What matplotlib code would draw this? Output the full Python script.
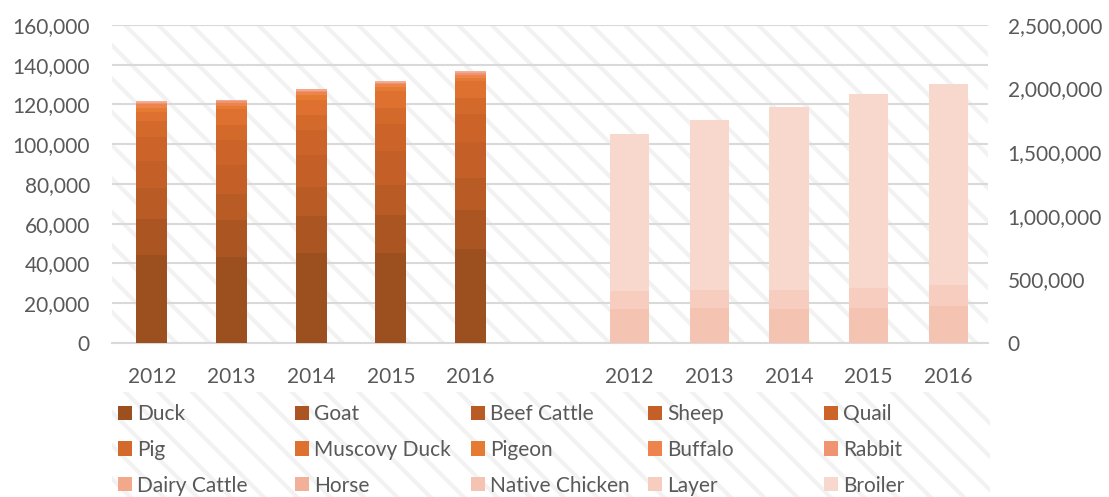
import matplotlib.pyplot as plt
from matplotlib.patches import Rectangle
from matplotlib.ticker import FuncFormatter
import numpy as np

years = ['2012', '2013', '2014', '2015', '2016']

# primary axis (head)
duck = [44000, 43300, 45000, 45000, 47100]
goat = [18200, 18400, 18700, 19200, 19700]
beef_cattle = [15700, 13200, 14700, 15200, 16400]
sheep = [13700, 14700, 16200, 17200, 18100]
quail = [11900, 12600, 12600, 13700, 13800]
pig = [8300, 7600, 7700, 7900, 8000]
muscovy_duck = [4600, 7700, 7400, 8300, 8600]
pigeon = [2000, 1700, 2300, 2300, 1700]
buffalo = [1700, 1700, 1500, 1400, 1500]
rabbit = [800, 700, 800, 600, 900]
dairy_cattle = [500, 500, 600, 450, 600]
horse = [350, 300, 300, 300, 350]

# secondary axis (head)
native_chicken = [267000, 275000, 267000, 275000, 291000]
layer = [142000, 139000, 147000, 157000, 163000]
broiler = [1237000, 1342000, 1438000, 1525000, 1585000]

left_series = [('Duck', duck, '#9C4F1F'), ('Goat', goat, '#AB5522'),
               ('Beef Cattle', beef_cattle, '#B85B24'), ('Sheep', sheep, '#C35F27'),
               ('Quail', quail, '#CC6429'), ('Pig', pig, '#D4692C'),
               ('Muscovy Duck', muscovy_duck, '#DE7030'), ('Pigeon', pigeon, '#E57A33'),
               ('Buffalo', buffalo, '#ED844E'), ('Rabbit', rabbit, '#EF9370'),
               ('Dairy Cattle', dairy_cattle, '#F2A88A'), ('Horse', horse, '#F2B09A')]
right_series = [('Native Chicken', native_chicken, '#F5C3B2'),
                ('Layer', layer, '#F7CDBF'), ('Broiler', broiler, '#F8D7CD')]

plt.rcParams['font.family'] = ['Lato', 'DejaVu Sans']
plt.rcParams['hatch.linewidth'] = 3.0
plt.rcParams['hatch.color'] = '#F2F2F2'
txt = '#595959'
grid = '#D9D9D9'
fs = 15

fig = plt.figure(figsize=(11.09, 4.97), dpi=100)
ax = fig.add_axes([0.101, 0.31, 0.79, 0.64])
ax.patch.set_facecolor('white')
ax.patch.set_edgecolor('#F2F2F2')
ax.patch.set_hatch('\\')
ax.patch.set_linewidth(0)

x_left = np.arange(5)
x_right = np.arange(6, 11)

handles = []
bottom = np.zeros(5)
for name, vals, col in left_series:
    b = ax.bar(x_left, vals, 0.39, bottom=bottom, color=col, label=name, zorder=3)
    handles.append(b)
    bottom += np.array(vals)

ax.set_ylim(0, 160000)
ax.set_yticks(np.arange(0, 160001, 20000))
ax.yaxis.set_major_formatter(FuncFormatter(lambda v, p: f'{int(v):,}'))
ax.set_xlim(-0.5, 10.5)
ax.set_xticks(list(x_left) + list(x_right))
ax.set_xticklabels(years + years)
ax.grid(axis='y', color=grid, linewidth=1.5, zorder=0)
ax.set_axisbelow(True)
for s in ['top', 'left', 'right']:
    ax.spines[s].set_visible(False)
ax.spines['bottom'].set_color(grid)
ax.spines['bottom'].set_linewidth(1.5)
ax.tick_params(length=0, labelsize=fs, colors=txt)
ax.tick_params(axis='x', pad=17)
ax.tick_params(axis='y', pad=16)

ax2 = ax.twinx()
bottom = np.zeros(5)
for name, vals, col in right_series:
    b = ax2.bar(x_right, vals, 0.49, bottom=bottom, color=col, label=name, zorder=3)
    handles.append(b)
    bottom += np.array(vals)
ax2.set_ylim(0, 2500000)
ax2.set_yticks(np.arange(0, 2500001, 500000))
ax2.yaxis.set_major_formatter(FuncFormatter(lambda v, p: f'{int(v):,}'))
for s in ax2.spines.values():
    s.set_visible(False)
ax2.tick_params(length=0, labelsize=fs, colors=txt, pad=14)

# hatched legend area
fig.patches.append(Rectangle((112 / 1109, 0), (990 - 112) / 1109, 105 / 497,
                             transform=fig.transFigure, facecolor='white',
                             edgecolor='#F2F2F2', hatch='\\', linewidth=0, zorder=0))

col_x = [118, 295, 471, 648, 824]
for j in range(5):
    hs = [handles[j + 5 * r] for r in range(3)]
    lg = fig.legend(hs, [h.get_label() for h in hs], loc='upper left',
                    bbox_to_anchor=(col_x[j] / 1109, 1 - 404 / 497), frameon=False,
                    fontsize=fs, handlelength=0.67, handleheight=0.67,
                    handletextpad=0.25, labelspacing=0.76, borderpad=0,
                    borderaxespad=0, labelcolor=txt)

fig.savefig('out.png', dpi=100)
